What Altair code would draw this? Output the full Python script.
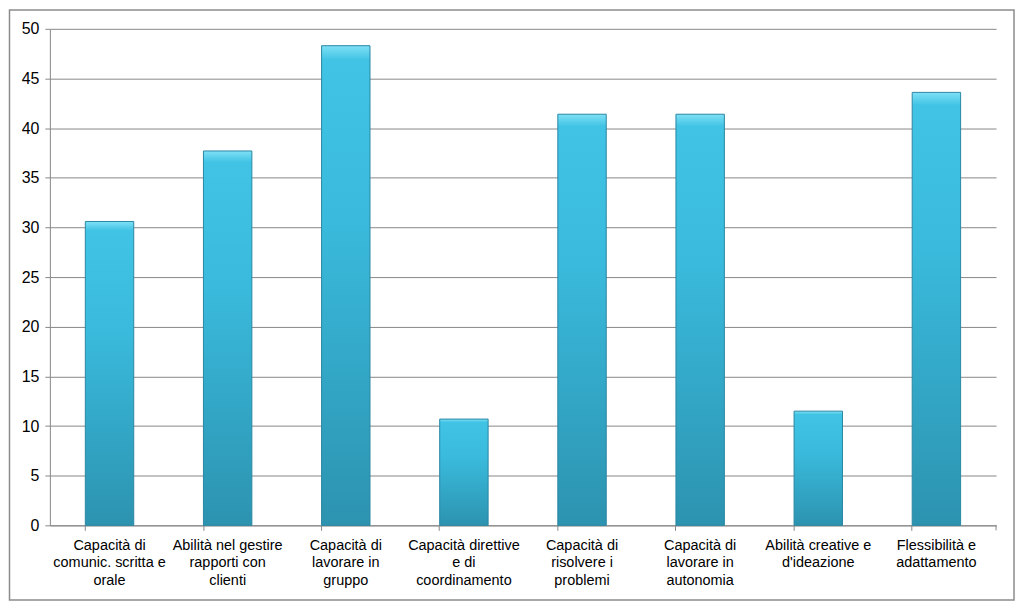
import altair as alt
import pandas as pd

categories = [
    "Capacità di|comunic. scritta e|orale",
    "Abilità nel gestire|rapporti con|clienti",
    "Capacità di|lavorare in|gruppo",
    "Capacità direttive|e di|coordinamento",
    "Capacità di|risolvere i|problemi",
    "Capacità di|lavorare in|autonomia",
    "Abilità creative e|d'ideazione",
    "Flessibilità e|adattamento",
]
values = [30.6, 37.7, 48.3, 10.7, 41.4, 41.4, 11.5, 43.6]
y_ticks = [0, 5, 10, 15, 20, 25, 30, 35, 40, 45, 50]

df = pd.DataFrame({"cat": categories, "val": values})

W, H = 949, 498

bars = alt.Chart(df).mark_bar(
    color=alt.Gradient(
        gradient="linear",
        stops=[
            alt.GradientStop(color="#7FE0F6", offset=0),
            alt.GradientStop(color="#40C3E4", offset=0.03),
            alt.GradientStop(color="#3ABBDD", offset=0.35),
            alt.GradientStop(color="#2C93B0", offset=1),
        ],
        x1=0, x2=0, y1=0, y2=1,
    ),
    stroke="#2A88A3",
    strokeWidth=1,
).encode(
    x=alt.X(
        "cat:N",
        sort=categories,
        scale=alt.Scale(paddingInner=0.59, paddingOuter=0.3),
        axis=alt.Axis(
            title=None,
            labelAngle=0,
            labelExpr="split(datum.label, '|')",
            labelFont="Liberation Sans",
            labelFontSize=14.5,
            labelColor="#000000",
            labelLineHeight=17.5,
            labelPadding=8,
            labelBaseline="top",
            bandPosition=0,
            tickSize=5,
            tickColor="#888888",
            domainColor="#888888",
            grid=False,
            labelLimit=200,
        ),
    ),
    y=alt.Y(
        "val:Q",
        scale=alt.Scale(domain=[0, 50], nice=False),
        axis=alt.Axis(
            title=None,
            values=y_ticks,
            labelFont="Liberation Sans",
            labelFontSize=16,
            labelColor="#000000",
            labelPadding=6,
            tickSize=5,
            tickColor="#888888",
            domainColor="#888888",
            gridColor="#888888",
            gridOpacity=1,
            grid=True,
        ),
    ),
)

end_tick = alt.Chart(pd.DataFrame({"a": [0]})).mark_rule(color="#888888").encode(
    x=alt.value(W), y=alt.value(H), y2=alt.value(H + 5)
)

border = alt.Chart(pd.DataFrame({"a": [0]})).mark_rect(
    fill=None, stroke="#8C8C8C", strokeWidth=1.5, clip=False
).encode(
    x=alt.value(-40.5), x2=alt.value(967), y=alt.value(-19), y2=alt.value(573)
)

chart = alt.layer(bars, end_tick, border).properties(
    width=W, height=H, padding=0, background="white"
).configure_view(stroke=None)

chart.save("out.html", embed_options={"renderer": "svg", "actions": False})
